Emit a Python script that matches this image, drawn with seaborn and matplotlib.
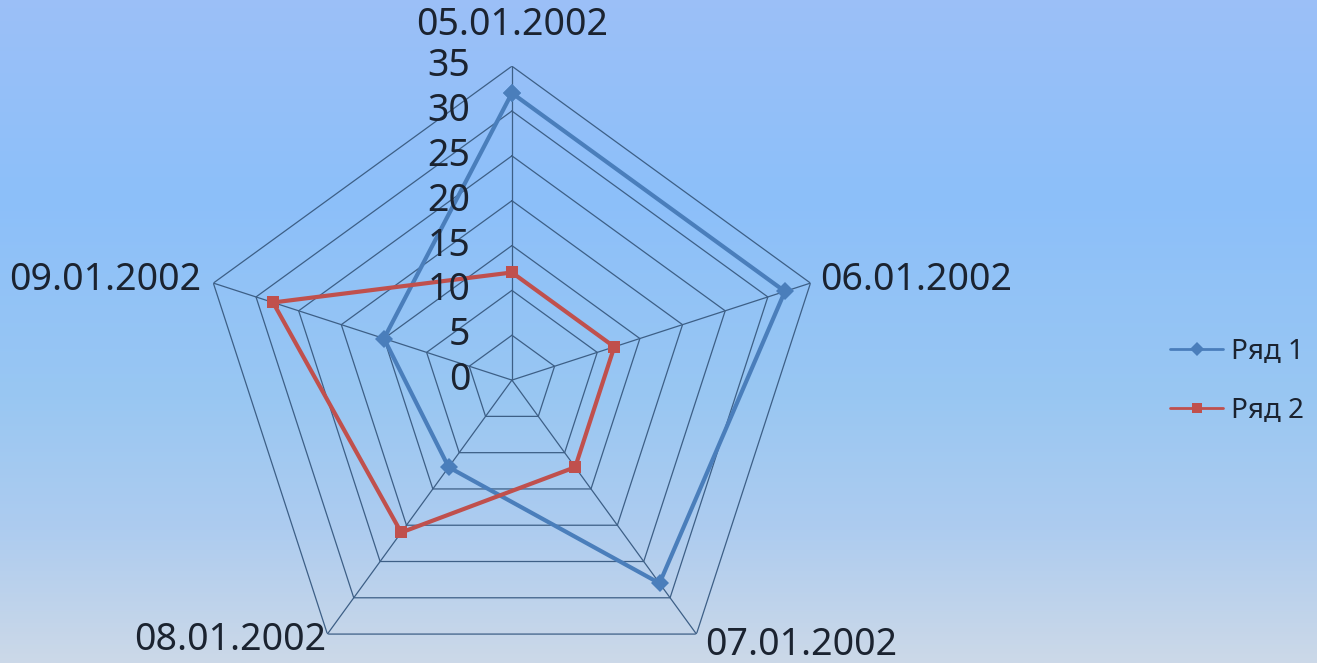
import numpy as np
import pandas as pd
import matplotlib.pyplot as plt
import seaborn as sns

# ===================== DATA =====================
categories = ["05.01.2002", "06.01.2002", "07.01.2002", "08.01.2002", "09.01.2002"]
series_names = ["Ряд 1", "Ряд 2"]
row1 = [32, 32, 28, 12, 15]
row2 = [12, 12, 12, 21, 28]
tick_values = [0, 5, 10, 15, 20, 25, 30, 35]

# ===================== STYLE =====================
sns.set_style("white")
plt.rcParams["font.family"] = ["Noto Sans", "DejaVu Sans"]
text_color = "#1b2330"
grid_color = "#3d5f86"
palette = {"Ряд 1": "#4a7ebb", "Ряд 2": "#c0504d"}

# ===================== BUILD TABLE =====================
angles = np.linspace(0, 2 * np.pi, len(categories), endpoint=False)
rows = []
for name, vals in zip(series_names, [row1, row2]):
    for a, v in zip(angles, vals):
        rows.append({"theta": a, "value": v, "series": name})
    # close the polygon
    rows.append({"theta": 2 * np.pi, "value": vals[0], "series": name})
df = pd.DataFrame(rows)

# ===================== FIGURE =====================
fig = plt.figure(figsize=(13.17, 6.63), dpi=100)

# gradient background
bg = fig.add_axes([0, 0, 1, 1], zorder=0)
stops = np.array([0.0, 0.3, 0.6, 0.8, 1.0])
cols = np.array([
    [0.61, 0.75, 0.97],
    [0.55, 0.75, 0.98],
    [0.60, 0.78, 0.95],
    [0.68, 0.80, 0.94],
    [0.80, 0.85, 0.91],
])
yy = np.linspace(0, 1, 300)
grad = np.stack([np.interp(yy, stops, cols[:, i]) for i in range(3)], axis=1)
bg.imshow(grad[:, None, :], aspect="auto", extent=[0, 1, 0, 1])
bg.axis("off")

ax = fig.add_axes([0.1503, -0.0468, 0.4768, 0.947], projection="polar", zorder=1)
ax.set_theta_offset(np.pi / 2)
ax.set_theta_direction(-1)
ax.patch.set_alpha(0)
ax.spines["polar"].set_visible(False)
ax.grid(False)
ax.set_xticks([])
ax.set_yticks([])
ax.set_ylim(0, 35)

# pentagon grid
closed = np.append(angles, angles[0])
for lvl in tick_values[1:]:
    ax.plot(closed, [lvl] * len(closed), color=grid_color, lw=0.9, zorder=1)
for a in angles:
    ax.plot([a, a], [0, 35], color=grid_color, lw=0.9, zorder=1)

# series
sns.lineplot(
    data=df, x="theta", y="value", hue="series", style="series",
    palette=palette, markers={"Ряд 1": "D", "Ряд 2": "s"}, dashes=False,
    sort=False, estimator=None, lw=3, markersize=9, markeredgewidth=0,
    ax=ax, zorder=3,
)
ax.set_xlabel("")
ax.set_ylabel("")
ax.set_ylim(0, 35)

# radial tick labels
for v in tick_values:
    ax.annotate(str(v), xy=(0, v), xytext=(-30, 0), textcoords="offset points",
                ha="right", va="center", fontsize=27, color=text_color)

# category labels
offsets = [(0, 30, "center"), (7, 2, "left"), (6, -8, "left"), (-1, -4, "right"), (-9, 2, "right")]
for a, lab, (dx, dy, ha) in zip(angles, categories, offsets):
    ax.annotate(lab, xy=(a, 35), xytext=(dx, dy), textcoords="offset points",
                ha=ha, va="center", fontsize=27, color=text_color, annotation_clip=False)

sns.move_legend(
    ax, loc="center left", bbox_to_anchor=(0.878, 0.425), bbox_transform=fig.transFigure,
    frameon=False, title=None, fontsize=20, handlelength=1.9, labelspacing=1.1,
    handletextpad=0.3, borderpad=0,
)
for t in ax.get_legend().get_texts():
    t.set_color(text_color)
for h in ax.get_legend().get_lines():
    h.set_linewidth(2)
    h.set_markersize(7)

plt.savefig("out.png", dpi=100)
